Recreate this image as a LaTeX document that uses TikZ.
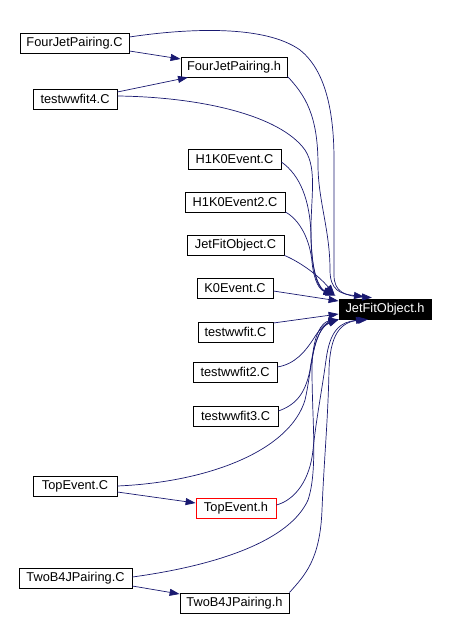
\documentclass[tikz,border=0pt]{standalone}
\usepackage{fontspec}
\setmainfont{Liberation Sans}
\usetikzlibrary{arrows.meta,calc}
\definecolor{edgeblue}{RGB}{25,25,112}
\begin{document}
\begin{tikzpicture}[x=1pt,y=-1pt,
  file/.style={draw=black,line width=0.8pt,inner sep=0pt,minimum height=20pt,
    font=\fontsize{12.8}{14}\selectfont,fill=white},
  dep/.style={draw=edgeblue,line width=0.7pt,-{Triangle[length=10pt,width=7pt]}}]
\useasboundingbox (0,0) rectangle (449,617);
% nodes
\node[file,minimum width=109pt] (FJPC) at (74.5,43) {FourJetPairing.C};
\node[file,minimum width=106pt] (FJPh) at (234,67) {FourJetPairing.h};
\node[file,minimum width=84pt] (twf4) at (75,99) {testwwfit4.C};
\node[file,minimum width=93pt] (H1) at (234.5,159) {H1K0Event.C};
\node[file,minimum width=100pt] (H2) at (235,202) {H1K0Event2.C};
\node[file,minimum width=97pt] (JFOC) at (235.5,245) {JetFitObject.C};
\node[file,minimum width=76pt] (K0) at (235,288) {K0Event.C};
\node[file,minimum width=92pt,fill=black,text=white] (JFOh) at (385,309) {JetFitObject.h};
\node[file,minimum width=75pt] (twC) at (235.5,332) {testwwfit.C};
\node[file,minimum width=84pt] (tw2) at (235,372) {testwwfit2.C};
\node[file,minimum width=85pt] (tw3) at (235.5,416) {testwwfit3.C};
\node[file,minimum width=84pt] (TopC) at (75,486) {TopEvent.C};
\node[file,minimum width=80pt,draw=red] (TopH) at (236,508) {TopEvent.h};
\node[file,minimum width=113pt] (TwoC) at (75.5,578) {TwoB4JPairing.C};
\node[file,minimum width=109pt] (Twoh) at (234.5,603) {TwoB4JPairing.h};
% edges
\draw[dep] ($(FJPC.east)+(0,8)$) -- ($(FJPh.west)+(0,-8)$);
\draw[dep] ($(twf4.east)+(0,-7)$) -- ($(FJPh.south)+(-46,0)$);
\draw[dep] ($(FJPC.east)+(0,-6)$) .. controls (190,28) and (265,25) .. (300,50)
  .. controls (325,70) and (334,110) .. (334,160) -- (334,275)
  .. controls (334,292) and (345,296) .. ($(JFOh.north)+(-13,-1)$);
\draw[dep] ($(FJPh.south east)+(0,-1)$) .. controls (305,95) and (318,115) .. (318,165)
  .. controls (318,200) and (330,230) .. (330,270)
  .. controls (330,290) and (340,294) .. ($(JFOh.north)+(-21,-2)$);
\draw[dep] ($(twf4.east)+(0,-3)$) .. controls (200,97) and (280,115) .. (305,150)
  .. controls (318,170) and (310,200) .. (311,240)
  .. controls (312,275) and (320,290) .. ($(JFOh.north west)+(-3,-3)$);
\draw[dep] ($(H1.east)+(0,3)$) .. controls (300,175) and (310,200) .. (311,235)
  .. controls (312,275) and (318,288) .. ($(JFOh.north west)+(-5,-4)$);
\draw[dep] ($(H2.east)+(0,10)$) .. controls (300,220) and (310,240) .. (312,262)
  .. controls (314,282) and (320,290) .. ($(JFOh.north west)+(-5,-4)$);
\draw[dep] (JFOC.south east) .. controls (300,262) and (318,275) .. ($(JFOh.north west)+(-4,-4)$);
\draw[dep] ($(K0.east)+(0,3)$) -- ($(JFOh.west)+(0,-8)$);
\draw[dep] ($(twC.east)+(0,-9)$) -- ($(JFOh.west)+(0,5)$);
\draw[dep] ($(tw2.east)+(0,-5)$) .. controls (295,364) and (305,352) .. (314,338)
  .. controls (320,328) and (328,322) .. (JFOh.south west);
\draw[dep] ($(tw3.east)+(0,-5)$) .. controls (295,405) and (305,395) .. (310,370)
  .. controls (314,340) and (322,325) .. (JFOh.south west);
\draw[dep] (TopC.east) .. controls (210,482) and (290,450) .. (305,400)
  .. controls (312,370) and (312,330) .. (JFOh.south west);
\draw[dep] ($(TopC.east)+(0,6)$) -- ($(TopH.west)+(0,-5)$);
\draw[dep] ($(TopH.east)+(0,-3)$) .. controls (295,500) and (310,480) .. (313,450)
  .. controls (316,420) and (322,390) .. (326,360)
  .. controls (330,330) and (340,322) .. ($(JFOh.south)+(-19,0)$);
\draw[dep] ($(TwoC.east)+(0,8)$) -- ($(Twoh.west)+(0,-9)$);
\draw[dep] ($(TwoC.east)+(0,-1)$) .. controls (220,565) and (290,540) .. (308,500)
  .. controls (318,470) and (312,420) .. (312,370)
  .. controls (312,335) and (322,322) .. (JFOh.south west);
\draw[dep] (Twoh.north east) .. controls (305,575) and (320,560) .. (322,510)
  .. controls (324,460) and (328,420) .. (329,370)
  .. controls (330,335) and (340,322) .. ($(JFOh.south)+(-17,0)$);
\end{tikzpicture}
\end{document}
